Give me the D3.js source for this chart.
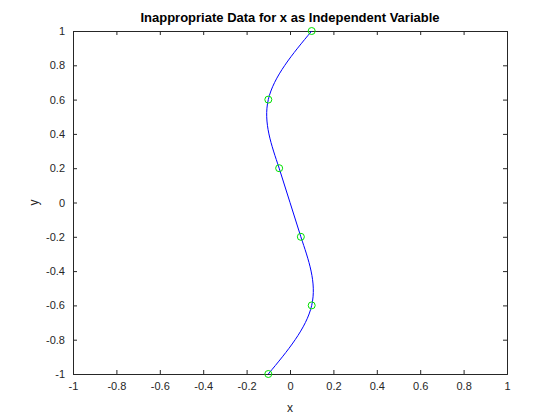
<!DOCTYPE html>
<html>
<head>
<meta charset="UTF-8">
<script src="https://d3js.org/d3.v7.min.js"></script>
<style>
  body { margin: 0; background: #fff; }
  text { font-family: "Liberation Sans", Arial, sans-serif; }
</style>
</head>
<body>
<svg id="chart" width="560" height="420"></svg>
<script>
  const xs = [-0.1, 0.1, 0.05, -0.05, -0.1, 0.1];
  const ys = [-1, -0.6, -0.2, 0.2, 0.6, 1];
  const ticks = d3.range(-1, 1.0001, 0.2).map(v => Math.round(v * 10) / 10);

  const padL = 73, padR = 507, padT = 31, padB = 374;
  const svg = d3.select('#chart');
  const x = d3.scaleLinear().domain([-1, 1]).range([padL, padR]);
  const y = d3.scaleLinear().domain([-1, 1]).range([padB, padT]);

  const fmt = d => d === 0 ? '0' : String(d);

  // inward ticks on all four sides
  svg.append('g').attr('transform', `translate(0,${padB})`)
    .call(d3.axisBottom(x).tickValues(ticks).tickSize(-4).tickPadding(8).tickFormat(fmt));
  svg.append('g').attr('transform', `translate(0,${padT})`)
    .call(d3.axisTop(x).tickValues(ticks).tickSize(-4).tickFormat(''));
  svg.append('g').attr('transform', `translate(${padL},0)`)
    .call(d3.axisLeft(y).tickValues(ticks).tickSize(-4).tickPadding(8).tickFormat(fmt));
  svg.append('g').attr('transform', `translate(${padR},0)`)
    .call(d3.axisRight(y).tickValues(ticks).tickSize(-4).tickFormat(''));

  svg.selectAll('.domain').attr('stroke', '#262626');
  svg.selectAll('.tick line').attr('stroke', '#262626');
  svg.selectAll('.tick text').attr('font-size', 11).attr('fill', '#262626');

  const pts = xs.map((v, i) => [v, ys[i]]);
  svg.append('path')
    .datum(pts)
    .attr('fill', 'none')
    .attr('stroke', '#0000ff')
    .attr('stroke-width', 1)
    .attr('d', d3.line().x(d => x(d[0])).y(d => y(d[1])).curve(d3.curveNatural));

  svg.append('g').selectAll('circle').data(pts).enter().append('circle')
    .attr('cx', d => x(d[0])).attr('cy', d => y(d[1])).attr('r', 3.5)
    .attr('fill', 'none').attr('stroke', '#00e000').attr('stroke-width', 1);

  svg.append('text').attr('x', (padL + padR) / 2).attr('y', 22)
    .attr('text-anchor', 'middle').attr('font-size', 13).attr('font-weight', 'bold')
    .attr('fill', '#000').text('Inappropriate Data for x as Independent Variable');
  svg.append('text').attr('x', (padL + padR) / 2).attr('y', 412)
    .attr('text-anchor', 'middle').attr('font-size', 12).attr('fill', '#262626').text('x');
  svg.append('text').attr('transform', `translate(38,${(padT + padB) / 2}) rotate(-90)`)
    .attr('text-anchor', 'middle').attr('font-size', 12).attr('fill', '#262626').text('y');
</script>
</body>
</html>
